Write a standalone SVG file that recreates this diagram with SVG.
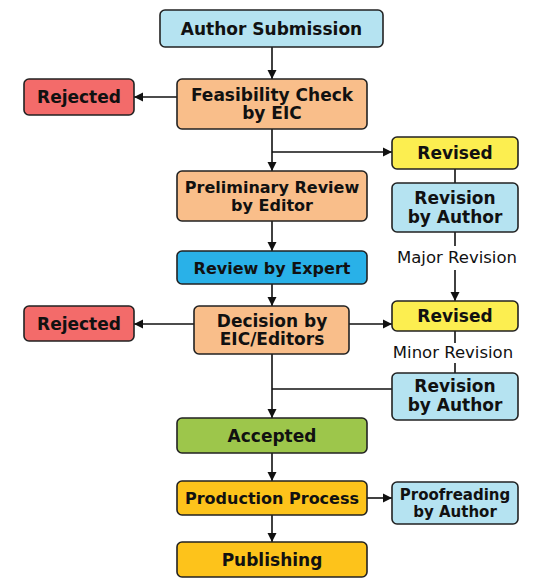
<svg xmlns="http://www.w3.org/2000/svg" width="543" height="585" viewBox="0 0 543 585">
<style>
  .box { stroke: #222; stroke-width: 1.6; }
  .lb { fill: #b5e3f1; }
  .or { fill: #f9be8a; }
  .rd { fill: #f36b6a; }
  .ye { fill: #fcee50; }
  .bl { fill: #29b1e8; }
  .gr { fill: #9dc64b; }
  .go { fill: #fdc31b; }
  text { font-family: "DejaVu Sans", "Liberation Sans", sans-serif; font-weight: bold; font-size: 17px; fill: #111; text-anchor: middle; }
  .s16 { font-size: 16px; }
  .s15 { font-size: 15px; }
  .lab { font-weight: normal; font-size: 16.5px; }
  .c { stroke: #111; stroke-width: 1.6; fill: none; }
</style>
<defs>
  <marker id="ah" markerWidth="10" markerHeight="10" refX="9" refY="5" orient="auto" markerUnits="userSpaceOnUse">
    <path d="M0,0.5 L9,5 L0,9.5 Z" fill="#111"/>
  </marker>
</defs>
<rect width="543" height="585" fill="#ffffff"/>

<g id="connectors">
  <line class="c" x1="272" y1="47" x2="272" y2="79" marker-end="url(#ah)"/>
  <line class="c" x1="177" y1="97" x2="134" y2="97" marker-end="url(#ah)"/>
  <line class="c" x1="272" y1="129" x2="272" y2="171" marker-end="url(#ah)"/>
  <line class="c" x1="272" y1="152" x2="392" y2="152" marker-end="url(#ah)"/>
  <line class="c" x1="455" y1="169" x2="455" y2="183"/>
  <line class="c" x1="455" y1="232" x2="455" y2="246"/>
  <line class="c" x1="455" y1="270" x2="455" y2="301" marker-end="url(#ah)"/>
  <line class="c" x1="272" y1="221" x2="272" y2="251" marker-end="url(#ah)"/>
  <line class="c" x1="272" y1="284" x2="272" y2="306" marker-end="url(#ah)"/>
  <line class="c" x1="194" y1="324" x2="134" y2="324" marker-end="url(#ah)"/>
  <line class="c" x1="349" y1="324" x2="392" y2="324" marker-end="url(#ah)"/>
  <line class="c" x1="455" y1="331" x2="455" y2="343"/>
  <line class="c" x1="455" y1="363" x2="455" y2="373"/>
  <line class="c" x1="272" y1="354" x2="272" y2="418" marker-end="url(#ah)"/>
  <line class="c" x1="392" y1="389" x2="272" y2="389"/>
  <line class="c" x1="272" y1="453" x2="272" y2="481" marker-end="url(#ah)"/>
  <line class="c" x1="367" y1="498" x2="392" y2="498" marker-end="url(#ah)"/>
  <line class="c" x1="272" y1="515" x2="272" y2="542" marker-end="url(#ah)"/>
  <text class="lab" x="457" y="263">Major Revision</text>
  <text class="lab" x="453" y="358">Minor Revision</text>
</g>

<g id="author-submission">
  <rect class="box lb" x="160" y="10" width="223" height="37" rx="5"/>
  <text x="271.5" y="35">Author Submission</text>
</g>
<g id="feasibility-check">
  <rect class="box or" x="177" y="79" width="190" height="50" rx="5"/>
  <text x="272" y="100.5">Feasibility Check</text>
  <text x="272" y="119">by EIC</text>
</g>
<g id="rejected-1">
  <rect class="box rd" x="24" y="79" width="110" height="36" rx="5"/>
  <text x="79" y="103">Rejected</text>
</g>
<g id="revised-1">
  <rect class="box ye" x="392" y="137" width="126" height="32" rx="5"/>
  <text x="455" y="159">Revised</text>
</g>
<g id="preliminary-review">
  <rect class="box or" x="177" y="171" width="190" height="50" rx="5"/>
  <text class="s16" x="272" y="192.5">Preliminary Review</text>
  <text class="s16" x="272" y="211">by Editor</text>
</g>
<g id="revision-by-author-1">
  <rect class="box lb" x="392" y="183" width="126" height="49" rx="5"/>
  <text x="455" y="203.5">Revision</text>
  <text x="455" y="222.5">by Author</text>
</g>
<g id="review-by-expert">
  <rect class="box bl" x="177" y="251" width="190" height="33" rx="5"/>
  <text class="s16" x="272" y="273.5">Review by Expert</text>
</g>
<g id="decision">
  <rect class="box or" x="194" y="306" width="155" height="48" rx="5"/>
  <text x="272" y="326.7">Decision by</text>
  <text x="272" y="345">EIC/Editors</text>
</g>
<g id="rejected-2">
  <rect class="box rd" x="24" y="306" width="110" height="35" rx="5"/>
  <text x="79" y="329.5">Rejected</text>
</g>
<g id="revised-2">
  <rect class="box ye" x="392" y="301" width="126" height="30" rx="5"/>
  <text x="455" y="322">Revised</text>
</g>
<g id="revision-by-author-2">
  <rect class="box lb" x="392" y="373" width="126" height="47" rx="5"/>
  <text x="455" y="392">Revision</text>
  <text x="455" y="411">by Author</text>
</g>
<g id="accepted">
  <rect class="box gr" x="177" y="418" width="190" height="35" rx="5"/>
  <text x="272" y="441.5">Accepted</text>
</g>
<g id="production-process">
  <rect class="box go" x="177" y="481" width="190" height="34" rx="5"/>
  <text class="s16" x="272" y="504">Production Process</text>
</g>
<g id="proofreading">
  <rect class="box lb" x="392" y="482" width="126" height="42" rx="5"/>
  <text class="s15" x="455" y="500">Proofreading</text>
  <text class="s15" x="455" y="516.7">by Author</text>
</g>
<g id="publishing">
  <rect class="box go" x="177" y="542" width="190" height="35" rx="5"/>
  <text x="272" y="565.5">Publishing</text>
</g>
</svg>
